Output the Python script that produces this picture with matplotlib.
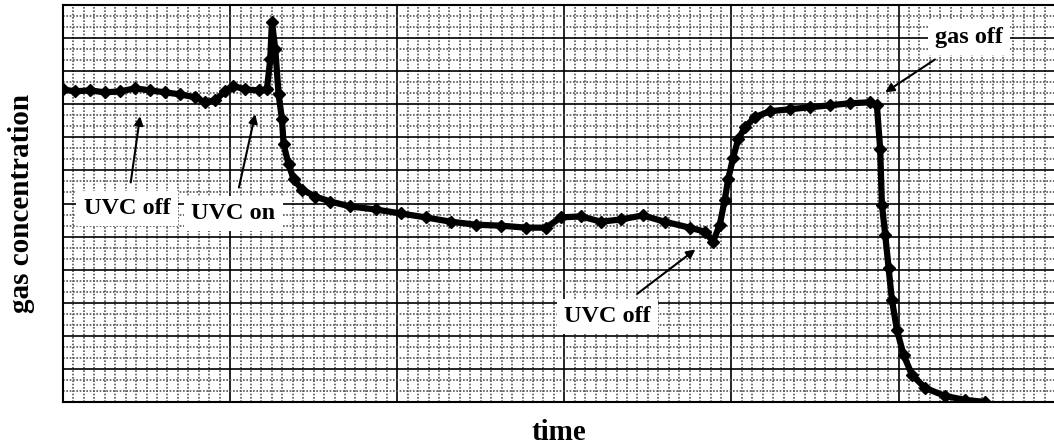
import matplotlib.pyplot as plt
from matplotlib.ticker import MultipleLocator

# (arbitrary units)
time = [0, 0.72, 1.62, 2.51, 3.41, 4.31, 5.21, 6.11, 7.0, 7.9, 8.5, 9.1, 9.7, 10.2,
        10.9, 11.7, 12.2, 12.4, 12.5, 12.7, 12.9, 13.1, 13.2, 13.5, 13.8, 14.3, 15.1,
        16.0, 17.2, 18.7, 20.2, 21.7, 23.2, 24.7, 26.2, 27.7, 28.9, 29.8, 31.0, 32.2,
        33.4, 34.7, 36.0, 37.5, 38.4, 38.9, 39.3, 39.6, 39.8, 40.1, 40.4, 40.8, 41.4,
        42.3, 43.5, 44.7, 45.9, 47.1, 48.3, 48.7, 48.9, 49.0, 49.2, 49.4, 49.6, 49.9,
        50.3, 50.8, 51.6, 52.8, 54.0, 55.2]
conc = [9.45, 9.39, 9.42, 9.36, 9.39, 9.48, 9.42, 9.36, 9.30, 9.21, 9.06, 9.12, 9.39, 9.55,
        9.45, 9.42, 9.45, 10.36, 11.5, 10.67, 9.30, 8.55, 7.79, 7.18, 6.73, 6.42, 6.21,
        6.06, 5.91, 5.82, 5.70, 5.58, 5.45, 5.36, 5.33, 5.27, 5.27, 5.58, 5.61, 5.45,
        5.52, 5.64, 5.45, 5.27, 5.15, 4.85, 5.36, 6.12, 6.73, 7.39, 7.94, 8.30, 8.61,
        8.79, 8.85, 8.91, 8.97, 9.03, 9.06, 8.97, 7.64, 5.97, 5.06, 4.06, 3.09, 2.18,
        1.42, 0.82, 0.42, 0.18, 0.06, 0.0]

labels = ["UVC off", "UVC on", "UVC off", "gas off"]
label_pos = [(3.83, 5.85), (10.18, 5.70), (32.57, 2.58), (54.2, 11.03)]
arrow_tip = [(4.61, 8.64), (11.5, 8.70), (37.84, 4.61), (49.2, 9.36)]

plt.rcParams["font.family"] = ["Liberation Serif", "DejaVu Serif"]
fig = plt.figure(figsize=(10.54, 4.46), dpi=100)
ax = fig.add_axes([0.0598, 0.0987, 0.9402, 0.890])

ax.set_xlim(0, 59.3)
ax.set_ylim(0, 12)
ax.xaxis.set_major_locator(MultipleLocator(10))
ax.yaxis.set_major_locator(MultipleLocator(1))
ax.xaxis.set_minor_locator(MultipleLocator(0.625))
ax.yaxis.set_minor_locator(MultipleLocator(1 / 3))
ax.grid(which="minor", color="#555555", linestyle=(0, (1, 1)), linewidth=1.2)
ax.grid(which="major", color="black", linewidth=1.2)
ax.tick_params(which="both", length=0, labelbottom=False, labelleft=False)
ax.spines["right"].set_visible(False)
for s in ["top", "left", "bottom"]:
    ax.spines[s].set_linewidth(1.5)

ax.plot(time, conc, color="black", linewidth=4.5, marker="D", markersize=6.5,
        solid_joinstyle="round", solid_capstyle="round")

for txt, pos, tip in zip(labels, label_pos, arrow_tip):
    ax.annotate(txt, xy=tip, xytext=pos, ha="center", va="center",
                fontsize=17.5, fontweight="bold",
                bbox=dict(boxstyle="square,pad=0.3", fc="white", ec="none"),
                arrowprops=dict(arrowstyle="-|>", color="black", lw=1.5,
                                mutation_scale=13, shrinkA=6, shrinkB=0))

ax.set_xlabel("time", fontsize=21, fontweight="bold", labelpad=12)
ax.set_ylabel("gas concentration", fontsize=21, fontweight="bold", labelpad=20)

fig.savefig("out.png", dpi=100)
